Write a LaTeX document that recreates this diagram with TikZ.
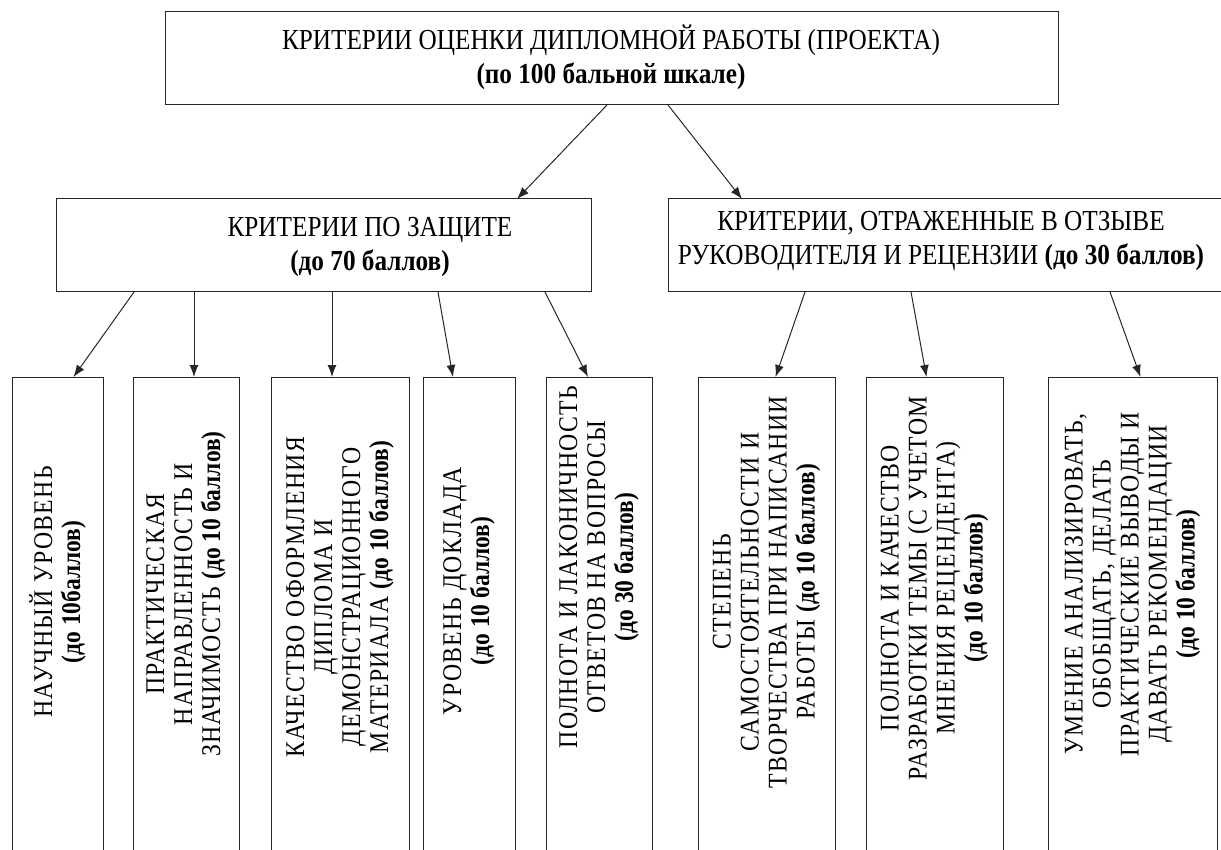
\documentclass[tikz,border=0pt]{standalone}
\usepackage{fontspec}
\setmainfont{Liberation Serif}[FakeStretch=0.87]
\newfontfamily\wide{Liberation Serif}[FakeStretch=0.88,LetterSpace=5]
\usetikzlibrary{arrows.meta,positioning}
\newcommand\bal[1]{{\bfseries #1}}
\newcommand\vbal[1]{{\normalfont\bfseries #1}}

\begin{document}
\begin{tikzpicture} [
      x = 1pt, y = -1pt,
      every node/.style = { inner sep = 0, outer sep = 0 },
      box/.style = { draw = black!85, line width = 1pt, rectangle },
      lbl/.style = { align = center, font = \fontsize{29}{34}\selectfont },
      vtext/.style = { rotate = 90, align = center, font = \wide\fontsize{27}{28}\selectfont },
      arr/.style = { -{Latex[length=12pt,width=9pt]}, line width = 1pt, draw = black!85 }
      ]
  \useasboundingbox (0,0) rectangle (1221,850);

  % top level
  \node [box, minimum width = 893pt, minimum height = 93pt] (crit) at (611.5,58.5) {};
  \node [lbl] (critT) at (611,57)
        {КРИТЕРИИ ОЦЕНКИ ДИПЛОМНОЙ РАБОТЫ (ПРОЕКТА)\\ \bal{(по 100 бальной шкале)}};

  % second level
  \node [box, minimum width = 535pt, minimum height = 93pt] (zash) at (323.5,245.5) {};
  \node [lbl] (zashT) at (370,247)
        {КРИТЕРИИ ПО ЗАЩИТЕ\\ \bal{(до 70 баллов)}};
  \node [box, minimum width = 572pt, minimum height = 93pt] (otz) at (954,245.5) {};
  \node [lbl] (otzT) at (941,241)
        {КРИТЕРИИ, ОТРАЖЕННЫЕ В ОТЗЫВЕ\\ РУКОВОДИТЕЛЯ И РЕЦЕНЗИИ \bal{(до 30 баллов)}};

  % third level (boxes run past the bottom edge)
  \node [box, minimum width = 91pt,  minimum height = 523pt] (b1) at (57.5,638.5) {};
  \node [box, minimum width = 106pt, minimum height = 523pt] (b2) at (186,638.5) {};
  \node [box, minimum width = 138pt, minimum height = 523pt] (b3) at (340,638.5) {};
  \node [box, minimum width = 92pt,  minimum height = 523pt] (b4) at (469,638.5) {};
  \node [box, minimum width = 106pt, minimum height = 523pt] (b5) at (599,638.5) {};
  \node [box, minimum width = 137pt, minimum height = 523pt] (b6) at (766.5,638.5) {};
  \node [box, minimum width = 137pt, minimum height = 523pt] (b7) at (934.5,638.5) {};
  \node [box, minimum width = 169pt, minimum height = 523pt] (b8) at (1132.5,638.5) {};

  \node [vtext] (t1) at (57.5,592) {НАУЧНЫЙ УРОВЕНЬ\\ \vbal{(до 10баллов)}};
  \node [vtext] (t2) at (186,594) {ПРАКТИЧЕСКАЯ\\ НАПРАВЛЕННОСТЬ И\\ ЗНАЧИМОСТЬ \vbal{(до 10 баллов)}};
  \node [vtext] (t3) at (340,597) {КАЧЕСТВО ОФОРМЛЕНИЯ\\ ДИПЛОМА И\\ ДЕМОНСТРАЦИОННОГО\\ МАТЕРИАЛА \vbal{(до 10 баллов)}};
  \node [vtext] (t4) at (469,591) {УРОВЕНЬ ДОКЛАДА\\ \vbal{(до 10 баллов)}};
  \node [vtext] (t5) at (599,567) {ПОЛНОТА И ЛАКОНИЧНОСТЬ\\ ОТВЕТОВ НА ВОПРОСЫ\\ \vbal{(до 30 баллов)}};
  \node [vtext] (t6) at (766.5,592) {СТЕПЕНЬ\\ САМОСТОЯТЕЛЬНОСТИ И\\ ТВОРЧЕСТВА ПРИ НАПИСАНИИ\\ РАБОТЫ \vbal{(до 10 баллов)}};
  \node [vtext] (t7) at (934.5,588) {ПОЛНОТА И КАЧЕСТВО\\ РАЗРАБОТКИ ТЕМЫ (С УЧЕТОМ\\ МНЕНИЯ РЕЦЕНДЕНТА)\\ \vbal{(до 10 баллов)}};
  \node [vtext] (t8) at (1132.5,584) {УМЕНИЕ АНАЛИЗИРОВАТЬ,\\ ОБОБЩАТЬ, ДЕЛАТЬ\\ ПРАКТИЧЕСКИЕ ВЫВОДЫ И\\ ДАВАТЬ РЕКОМЕНДАЦИИ\\ \vbal{(до 10 баллов)}};

  % arrows
  \draw [arr] ([xshift=442pt]crit.south west) -- ([xshift=-74pt]zash.north east);
  \draw [arr] ([xshift=503pt]crit.south west) -- ([xshift=74pt]otz.north west);

  \draw [arr] ([xshift=78pt]zash.south west)  -- ([xshift=16pt]b1.north);
  \draw [arr] ([xshift=138pt]zash.south west) -- ([xshift=8pt]b2.north);
  \draw [arr] ([xshift=276pt]zash.south west) -- ([xshift=-8pt]b3.north);
  \draw [arr] ([xshift=382pt]zash.south west) -- ([xshift=-16pt]b4.north);
  \draw [arr] ([xshift=489pt]zash.south west) -- ([xshift=-11pt]b5.north);

  \draw [arr] ([xshift=137pt]otz.south west) -- ([xshift=9pt]b6.north);
  \draw [arr] ([xshift=243pt]otz.south west) -- ([xshift=-8pt]b7.north);
  \draw [arr] ([xshift=442pt]otz.south west) -- ([xshift=8pt]b8.north);
\end{tikzpicture}
\end{document}
